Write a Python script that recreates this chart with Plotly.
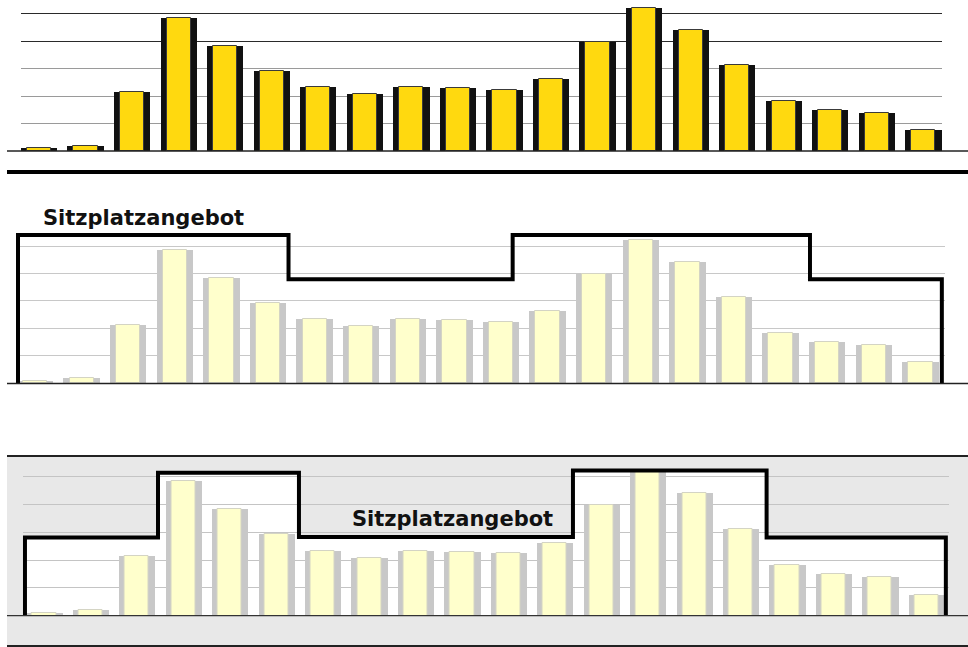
import plotly.graph_objects as go

W, H = 968, 647

# Fahrgäste je Zeitabschnitt (20 Intervalle)
intervalle = list(range(20))
fahrgaeste = [10, 19, 214, 486, 384, 293, 233, 207, 233, 230,
              224, 262, 399, 523, 443, 313, 182, 149, 138, 76]

# Sitzplatzangebot, Variante A: Grenzen der Stufen und ihre Höhe
angebot_a_grenzen = [-0.365, 5.44, 10.25, 16.63, 19.46]
angebot_a_stufen = [540, 379, 540, 379]

# Sitzplatzangebot, Variante B
angebot_b_grenzen = [-0.41, 2.455, 5.49, 11.39, 15.56, 19.42]
angebot_b_stufen = [281, 514, 283, 522, 281]

gitter_werte = [100, 200, 300, 400, 500]
beschriftung = "Sitzplatzangebot"

AUSSEN, INNEN = 0.78, 0.52


def px_x(a, b):
    return [a / W, b / W]


def px_y(top, bottom):
    return [1 - bottom / H, 1 - top / H]


def stufen_xy(grenzen, stufen):
    xs, ys = [grenzen[0]], [0]
    for i, hoehe in enumerate(stufen):
        xs += [grenzen[i], grenzen[i + 1]]
        ys += [hoehe, hoehe]
    xs.append(grenzen[-1])
    ys.append(0)
    return xs, ys


def stufen_pfad(grenzen, stufen):
    xs, ys = stufen_xy(grenzen, stufen)
    teile = [f"{'M' if i == 0 else 'L'} {x},{y}" for i, (x, y) in enumerate(zip(xs, ys))]
    return " ".join(teile) + " Z"


def saeulen(ax, flanke, fuellung, kante):
    # breite Säule als Flanke, schmalere Säule als Füllung darüber
    return [
        go.Bar(x=intervalle, y=fahrgaeste, width=AUSSEN, offset=-AUSSEN / 2,
               marker=dict(color=flanke, line=dict(width=0)),
               xaxis="x" + ax, yaxis="y" + ax, cliponaxis=False),
        go.Bar(x=intervalle, y=fahrgaeste, width=INNEN, offset=-INNEN / 2,
               marker=dict(color=fuellung, line=dict(color=kante, width=1)),
               xaxis="x" + ax, yaxis="y" + ax, cliponaxis=False),
    ]


fig = go.Figure()

# oberes Diagramm: gelbe Säulen mit schwarzen Flanken
for tr in saeulen("", "#111111", "#FFD90F", "#3a3a3a"):
    fig.add_trace(tr)

# mittleres und unteres Diagramm: blasse Säulen mit grauen Flanken
for ax in ("2", "3"):
    for tr in saeulen(ax, "#c8c8c8", "#FFFFCC", "#d4d4c4"):
        fig.add_trace(tr)

xa, ya = stufen_xy(angebot_a_grenzen, angebot_a_stufen)
fig.add_trace(go.Scatter(x=xa, y=ya, mode="lines", line=dict(color="#000000", width=4),
                         xaxis="x2", yaxis="y2"))

xb, yb = stufen_xy(angebot_b_grenzen, angebot_b_stufen)
fig.add_trace(go.Scatter(x=xb, y=yb, mode="lines", line=dict(color="#000000", width=4),
                         xaxis="x3", yaxis="y3"))

achse_y = dict(showticklabels=False, ticks="", showline=False, zeroline=False,
               showgrid=True, gridwidth=1, fixedrange=True)
achse_x = dict(showticklabels=False, ticks="", showline=False, zeroline=False,
               showgrid=False)


def linie(y_px, breite, farbe="#222222"):
    return dict(type="line", xref="paper", yref="paper", x0=7 / W, x1=1,
                y0=1 - y_px / H, y1=1 - y_px / H, layer="above",
                line=dict(color=farbe, width=breite))


fig.update_layout(
    width=W, height=H,
    margin=dict(l=0, r=0, t=0, b=0),
    paper_bgcolor="white",
    plot_bgcolor="rgba(0,0,0,0)",
    showlegend=False,
    barmode="overlay",
    bargap=0,
    xaxis=dict(achse_x, domain=px_x(21, 942), range=[-0.387, 19.40], anchor="y"),
    yaxis=dict(achse_y, domain=px_y(0, 151), range=[0, 551], anchor="x",
               tickvals=gitter_werte[3:], gridcolor="#2a2a2a",
               minor=dict(tickvals=gitter_werte[:3], showgrid=True,
                          gridcolor="#9a9a9a", gridwidth=1)),
    xaxis2=dict(achse_x, domain=px_x(16, 944.5), range=[-0.408, 19.517], anchor="y2"),
    yaxis2=dict(achse_y, domain=px_y(190, 383.3), range=[0, 704], anchor="x2",
                tickvals=gitter_werte, gridcolor="#c8c8c8"),
    xaxis3=dict(achse_x, domain=px_x(22.5, 948.5), range=[-0.463, 19.477], anchor="y3"),
    yaxis3=dict(achse_y, domain=px_y(456, 615.7), range=[0, 574.5], anchor="x3",
                tickvals=gitter_werte, gridcolor="#c4c4c4"),
    shapes=[
        dict(type="rect", xref="paper", yref="paper", x0=7 / W, x1=1,
             y0=1 - 646 / H, y1=1 - 456 / H, layer="below",
             fillcolor="#e8e8e8", line=dict(width=0)),
        dict(type="path", xref="x3", yref="y3", layer="below",
             path=stufen_pfad(angebot_b_grenzen, angebot_b_stufen),
             fillcolor="white", line=dict(width=0)),
        linie(151, 1.5),
        linie(172, 4, "#000000"),
        linie(383.5, 1.5),
        linie(456, 2),
        linie(615.7, 1.3, "#333333"),
        linie(646, 2),
    ],
    annotations=[
        dict(text="<b>" + beschriftung + "</b>", xref="paper", yref="paper",
             x=143.5 / W, y=1 - 218 / H, xanchor="center", yanchor="middle",
             showarrow=False, font=dict(family="DejaVu Sans", size=21, color="#111111")),
        dict(text="<b>" + beschriftung + "</b>", xref="paper", yref="paper",
             x=452.5 / W, y=1 - 519 / H, xanchor="center", yanchor="middle",
             showarrow=False, font=dict(family="DejaVu Sans", size=21, color="#111111")),
    ],
)

fig.write_html("out.html")
